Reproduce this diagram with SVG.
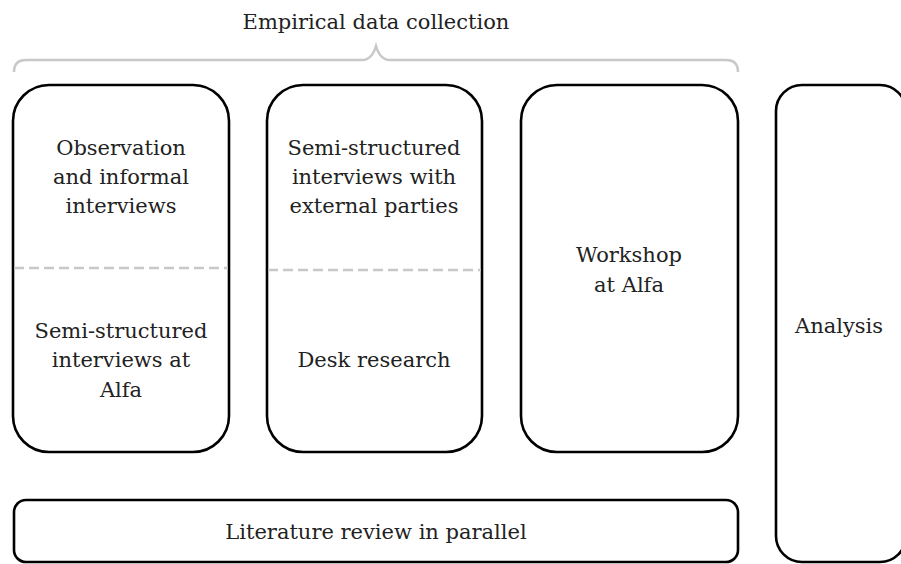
<svg xmlns="http://www.w3.org/2000/svg" width="901" height="564" viewBox="0 0 901 564">
<style>
.box{fill:#fff;stroke:#000;stroke-width:2.6}
.dash{stroke:#c8c8c8;stroke-width:2.6;stroke-dasharray:10 5;fill:none}
.brace{stroke:#c8c8c8;stroke-width:2.5;fill:none}
text{font-family:"DejaVu Serif","Liberation Serif",serif;font-size:21px;fill:#222;text-anchor:middle}
</style>
<rect width="901" height="564" fill="#fff"/>
<text x="376" y="29">Empirical data collection</text>
<g id="connectors">
<path class="brace" d="M14,72 Q14,60 26,60 L362,60 Q372,60 376,46 Q380,60 390,60 L726,60 Q738,60 738,72"/>
</g>
<g id="box1">
<rect class="box" x="13" y="85" width="216" height="367" rx="36"/>
<line class="dash" x1="14" y1="268" x2="228" y2="268"/>
<text x="121" y="155">Observation</text>
<text x="121" y="184">and informal</text>
<text x="121" y="213">interviews</text>
<text x="121" y="338">Semi-structured</text>
<text x="121" y="367">interviews at</text>
<text x="121" y="397">Alfa</text>
</g>
<g id="box2">
<rect class="box" x="267" y="85" width="215" height="367" rx="36"/>
<line class="dash" x1="268" y1="270" x2="481" y2="270"/>
<text x="374" y="155">Semi-structured</text>
<text x="374" y="184">interviews with</text>
<text x="374" y="213">external parties</text>
<text x="374" y="367">Desk research</text>
</g>
<g id="box3">
<rect class="box" x="521" y="85" width="217" height="367" rx="36"/>
<text x="629" y="262">Workshop</text>
<text x="629" y="292">at Alfa</text>
</g>
<g id="analysis">
<rect class="box" x="776" y="85" width="130" height="477" rx="26"/>
<text x="839" y="333">Analysis</text>
</g>
<g id="literature">
<rect class="box" x="14" y="500" width="724" height="62" rx="12"/>
<text x="376" y="539">Literature review in parallel</text>
</g>
</svg>
